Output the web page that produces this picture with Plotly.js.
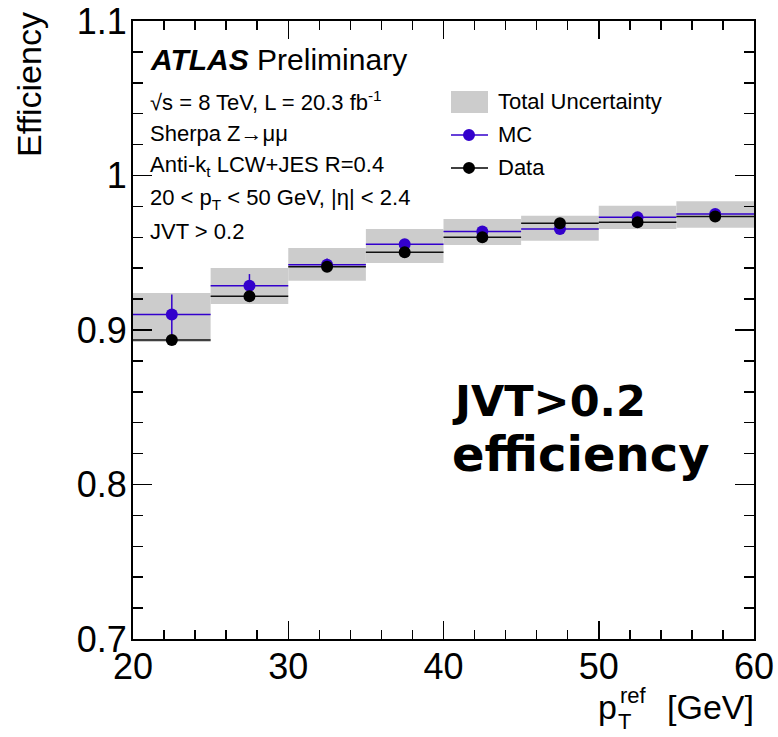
<!DOCTYPE html>
<html><head><meta charset="utf-8">
<script src="https://cdn.plot.ly/plotly-3.0.1.min.js"></script>
<style>html,body{margin:0;padding:0;background:#fff}</style>
</head><body><div id="plot" style="width:778px;height:737px"></div>
<script>
// ---- data ----
const binLow  = [20, 25, 30, 35, 40, 45, 50, 55];
const binHigh = [25, 30, 35, 40, 45, 50, 55, 60];
const mcEff   = [0.9100, 0.9287, 0.9423, 0.9555, 0.9638, 0.9654, 0.9729, 0.9751];
const mcStat  = [0.0130, 0.0075, 0.0040, 0.0020, 0.0015, 0.0015, 0.0015, 0.0015];
const dataEff = [0.8935, 0.9218, 0.9410, 0.9503, 0.9601, 0.9691, 0.9697, 0.9734];
const uncLow  = [0.8922, 0.9168, 0.9319, 0.9434, 0.9550, 0.9578, 0.9654, 0.9662];
const uncHigh = [0.9240, 0.9401, 0.9531, 0.9654, 0.9718, 0.9740, 0.9805, 0.9833];
const yTickVals = [0.7, 0.8, 0.9, 1.0, 1.1];
const yTickText = ['0.7', '0.8', '0.9', '1', '1.1'];
const xTickVals = [20, 30, 40, 50, 60];
const xTickText = ['20', '30', '40', '50', '60'];

const centers = binLow.map((l, i) => (l + binHigh[i]) / 2);
const widths  = binLow.map((l, i) => binHigh[i] - l);

function segments(vals, errs) {
  const x = [], y = [], s = [], e = [];
  vals.forEach((v, i) => {
    x.push(binLow[i], centers[i], binHigh[i], null);
    y.push(v, v, v, null);
    s.push(0, 12, 0, 0);
    e.push(0, errs ? errs[i] : 0, 0, 0);
  });
  return {x, y, s, e};
}

const BLUE = '#3300cc';
const mcSeg = segments(mcEff, mcStat);
const dSeg  = segments(dataEff, null);

const traces = [
  { type: 'bar', name: 'Total Uncertainty', x: centers, base: uncLow,
    y: uncHigh.map((h, i) => h - uncLow[i]), width: widths,
    marker: {color: '#cccccc', line: {width: 0}}, showlegend: false, hoverinfo: 'skip' },
  { type: 'scatter', mode: 'lines+markers', name: 'MC', x: mcSeg.x, y: mcSeg.y,
    connectgaps: false, line: {color: BLUE, width: 1.5},
    marker: {color: BLUE, size: mcSeg.s, opacity: 1, line: {width: 0}},
    error_y: {type: 'data', array: mcSeg.e, symmetric: true, color: BLUE, thickness: 1.5, width: 0},
    showlegend: false },
  { type: 'scatter', mode: 'lines+markers', name: 'Data', x: dSeg.x, y: dSeg.y,
    connectgaps: false, line: {color: '#111111', width: 1.5},
    marker: {color: '#000000', size: dSeg.s, opacity: 1, line: {width: 0}},
    showlegend: false }
];

// pixel -> paper helpers for text placement
const L = 133, R = 754, T = 21, B = 639.5;
const px = v => (v - L) / (R - L);
const py = v => (B - v) / (B - T);
const FONT = 'Liberation Sans, Arial, Helvetica, sans-serif';

function txt(text, x, y, size, extra) {
  return Object.assign({ text: text, xref: 'paper', yref: 'paper', x: px(x), y: py(y),
    xanchor: 'left', yanchor: 'middle', showarrow: false,
    font: {family: FONT, size: size, color: '#000'} }, extra || {});
}

const annotations = [
  txt('<b><i>ATLAS</i></b> Preliminary', 148, 60, 30),
  txt('√s = 8 TeV, L = 20.3 fb<sup>-1</sup>', 148, 101, 22),
  txt('Sherpa Z→μμ', 148, 134, 22),
  txt('Anti-k<sub>t</sub> LCW+JES R=0.4', 148, 166, 22),
  txt('20 < p<sub>T</sub> < 50 GeV, |η| < 2.4', 148, 199, 22),
  txt('JVT > 0.2', 148, 232, 22),
  txt('Total Uncertainty', 496, 102, 22),
  txt('MC', 496, 135, 22),
  txt('Data', 496, 168, 22),
  txt('<b>JVT>0.2</b>', 450, 401, 43, {font: {family: 'DejaVu Sans', size: 43, color: '#000'}}),
  txt('<b>efficiency</b>', 450, 454, 48, {font: {family: 'DejaVu Sans', size: 48, color: '#000'}}),
  // axis titles
  txt('Efficiency', 29, 85, 34, {textangle: -90, xanchor: 'center'}),
  txt('p', 596, 708, 34),
  txt('ref', 618, 696, 22),
  txt('T', 616, 722, 22),
  txt('[GeV]', 665, 708, 34)
];

const shapes = [
  {type: 'rect', xref: 'paper', yref: 'paper', x0: px(451), x1: px(488), y0: py(113), y1: py(91),
   fillcolor: '#cccccc', line: {width: 0}},
  {type: 'line', xref: 'paper', yref: 'paper', x0: px(451), x1: px(488), y0: py(135), y1: py(135),
   line: {color: BLUE, width: 1.5}},
  {type: 'circle', xref: 'paper', yref: 'paper', x0: px(463), x1: px(475), y0: py(141), y1: py(129),
   fillcolor: BLUE, line: {width: 0}},
  {type: 'line', xref: 'paper', yref: 'paper', x0: px(451), x1: px(488), y0: py(168), y1: py(168),
   line: {color: '#000', width: 1.5}},
  {type: 'circle', xref: 'paper', yref: 'paper', x0: px(463), x1: px(475), y0: py(174), y1: py(162),
   fillcolor: '#000', line: {width: 0}}
];

const layout = {
  width: 778, height: 737,
  margin: {l: 133, r: 24, t: 21, b: 97.5, pad: 0},
  paper_bgcolor: '#fff', plot_bgcolor: '#fff',
  showlegend: false,
  barmode: 'overlay',
  font: {family: FONT, color: '#000'},
  xaxis: {
    range: [20, 60], tickvals: xTickVals, ticktext: xTickText,
    ticks: 'inside', ticklen: 18, tickwidth: 1.5, tickcolor: '#000',
    minor: {dtick: 2, ticks: 'inside', ticklen: 9, tickwidth: 1.5, tickcolor: '#000'},
    showline: true, linecolor: '#000', linewidth: 2, mirror: 'allticks',
    showgrid: false, zeroline: false, ticklabelstandoff: -5,
    tickfont: {family: FONT, size: 36, color: '#000'}
  },
  yaxis: {
    range: [0.7, 1.1], tickvals: yTickVals, ticktext: yTickText,
    ticks: 'inside', ticklen: 19, tickwidth: 1.5, tickcolor: '#000',
    minor: {dtick: 0.02, tick0: 0.7, ticks: 'inside', ticklen: 10, tickwidth: 1.5, tickcolor: '#000'},
    showline: true, linecolor: '#000', linewidth: 2, mirror: 'allticks',
    showgrid: false, zeroline: false, ticklabelstandoff: -3,
    tickfont: {family: FONT, size: 36, color: '#000'}
  },
  annotations: annotations,
  shapes: shapes
};

Plotly.newPlot('plot', traces, layout, {displayModeBar: false, staticPlot: true});
</script>
</body></html>
